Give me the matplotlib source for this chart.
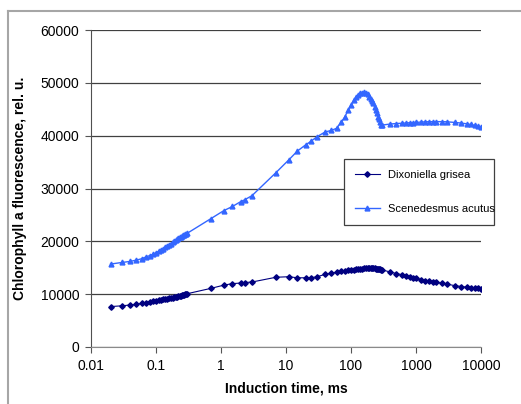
import matplotlib
matplotlib.use("Agg")
import matplotlib.pyplot as plt
from matplotlib.lines import Line2D

plt.rcParams['font.family'] = ['Liberation Sans', 'DejaVu Sans']

# induction times (ms), fast part sampled every 0.01 ms
t_fast = [0.02, 0.03, 0.04, 0.05, 0.06, 0.07, 0.08, 0.09, 0.10, 0.11,
          0.12, 0.13, 0.14, 0.15, 0.16, 0.17, 0.18, 0.19, 0.20, 0.21,
          0.22, 0.23, 0.24, 0.25, 0.26, 0.27, 0.28, 0.29, 0.30]
t_slow = [0.7, 1.1, 1.5, 2.0, 2.3, 3.0, 7, 11, 15, 20, 24, 30, 40, 50, 60,
          70, 80, 90, 100, 110, 120, 130, 140, 150, 160, 170, 180, 190, 200,
          210, 220, 230, 240, 250, 260, 270, 280, 290, 300, 400, 500, 600,
          700, 800, 900, 1000, 1200, 1400, 1600, 1800, 2000, 2500, 3000,
          4000, 5000, 6000, 7000, 8000, 9000, 10000]

dix_fast = [7650, 7800, 7950, 8080, 8250, 8380, 8500, 8640, 8770, 8850,
            8920, 9000, 9080, 9150, 9220, 9290, 9360, 9420, 9480, 9540,
            9600, 9660, 9720, 9780, 9840, 9900, 9960, 10020, 10080]
dix_slow = [11100, 11700, 12000, 12100, 12200, 12300, 13200, 13300, 13100,
            13100, 13100, 13300, 13750, 14000, 14150, 14300, 14400, 14500,
            14580, 14650, 14700, 14750, 14800, 14830, 14860, 14880, 14900,
            14900, 14900, 14890, 14880, 14860, 14840, 14800, 14770, 14740,
            14700, 14650, 14600, 14200, 13900, 13700, 13500, 13300, 13150,
            13000, 12750, 12570, 12450, 12350, 12250, 12100, 11900, 11600,
            11450, 11320, 11220, 11130, 11080, 11040]

sce_fast = [15700, 16000, 16200, 16450, 16700, 17050, 17300, 17550, 17850,
            18150, 18400, 18600, 18850, 19100, 19350, 19580, 19800, 20000,
            20200, 20400, 20580, 20750, 20900, 21050, 21170, 21270, 21350,
            21420, 21500]
sce_slow = [24300, 25800, 26600, 27500, 27850, 28650, 33000, 35400, 37100,
            38250, 38900, 39800, 40700, 41000, 41400, 42500, 43500, 44800,
            45800, 46700, 47300, 47700, 48000, 48150, 48200, 48050, 47800,
            47400, 46900, 46500, 46100, 45500, 44800, 44200, 43600, 43100,
            42600, 42100, 42000, 42200, 42300, 42350, 42400, 42450, 42480,
            42500, 42580, 42620, 42650, 42650, 42660, 42650, 42620, 42500,
            42380, 42250, 42120, 41950, 41770, 41600]

x_ticks = [0.01, 0.1, 1, 10, 100, 1000, 10000]
x_labels = ['0.01', '0.1', '1', '10', '100', '1000', '10000']
y_ticks = [0, 10000, 20000, 30000, 40000, 50000, 60000]

fig = plt.figure(figsize=(5.21, 4.04), dpi=100)
ax = fig.add_axes([91 / 521, 57 / 404, 390 / 521, 317 / 404])

t_all = t_fast + t_slow
ax.plot(t_all, dix_fast + dix_slow, color='#000080', lw=0.8, marker='D',
        markersize=2.8, label='Dixoniella grisea')
ax.plot(t_all, sce_fast + sce_slow, color='#3366ff', lw=1.0, marker='^',
        markersize=3.5, label='Scenedesmus acutus')

ax.set_xscale('log')
ax.set_xlim(0.01, 10000)
ax.set_ylim(0, 60000)
ax.set_xticks(x_ticks)
ax.set_xticklabels(x_labels)
ax.minorticks_off()
ax.set_yticks(y_ticks)
ax.tick_params(labelsize=10, length=4, width=0.8, color='#555555', pad=4.5)

ax.grid(axis='y', color='#404040', lw=0.9)
ax.set_axisbelow(True)
for s in ['top', 'right']:
    ax.spines[s].set_visible(False)
ax.spines['left'].set_color('#505050')
ax.spines['bottom'].set_color('#8a8a8a')

ax.set_xlabel('Induction time, ms', fontsize=10, fontweight='bold')
ax.set_ylabel('Chlorophyll a fluorescence, rel. u.', fontsize=10, fontweight='bold')
ax.xaxis.set_label_coords(0.5, -0.11)
ax.yaxis.set_label_coords(-0.164, 0.5)

leg = ax.legend(bbox_to_anchor=(338 / 521, 1 - 230 / 404, 162 / 521, 76 / 404),
                bbox_transform=fig.transFigure, loc='center', mode='expand',
                fontsize=8, frameon=True, fancybox=False, framealpha=1,
                edgecolor='#404040', labelspacing=2.2, borderpad=1.0,
                handlelength=2.3, handletextpad=0.7)
leg.get_frame().set_linewidth(0.9)

# outer chart frame (cropped at right and bottom)
fig.add_artist(Line2D([8 / 521, 1], [1 - 11 / 404, 1 - 11 / 404],
                      color='#a6a6a6', lw=1.5, transform=fig.transFigure))
fig.add_artist(Line2D([8 / 521, 8 / 521], [0, 1 - 11 / 404],
                      color='#a6a6a6', lw=1.5, transform=fig.transFigure))

fig.savefig('out.png', dpi=100)
